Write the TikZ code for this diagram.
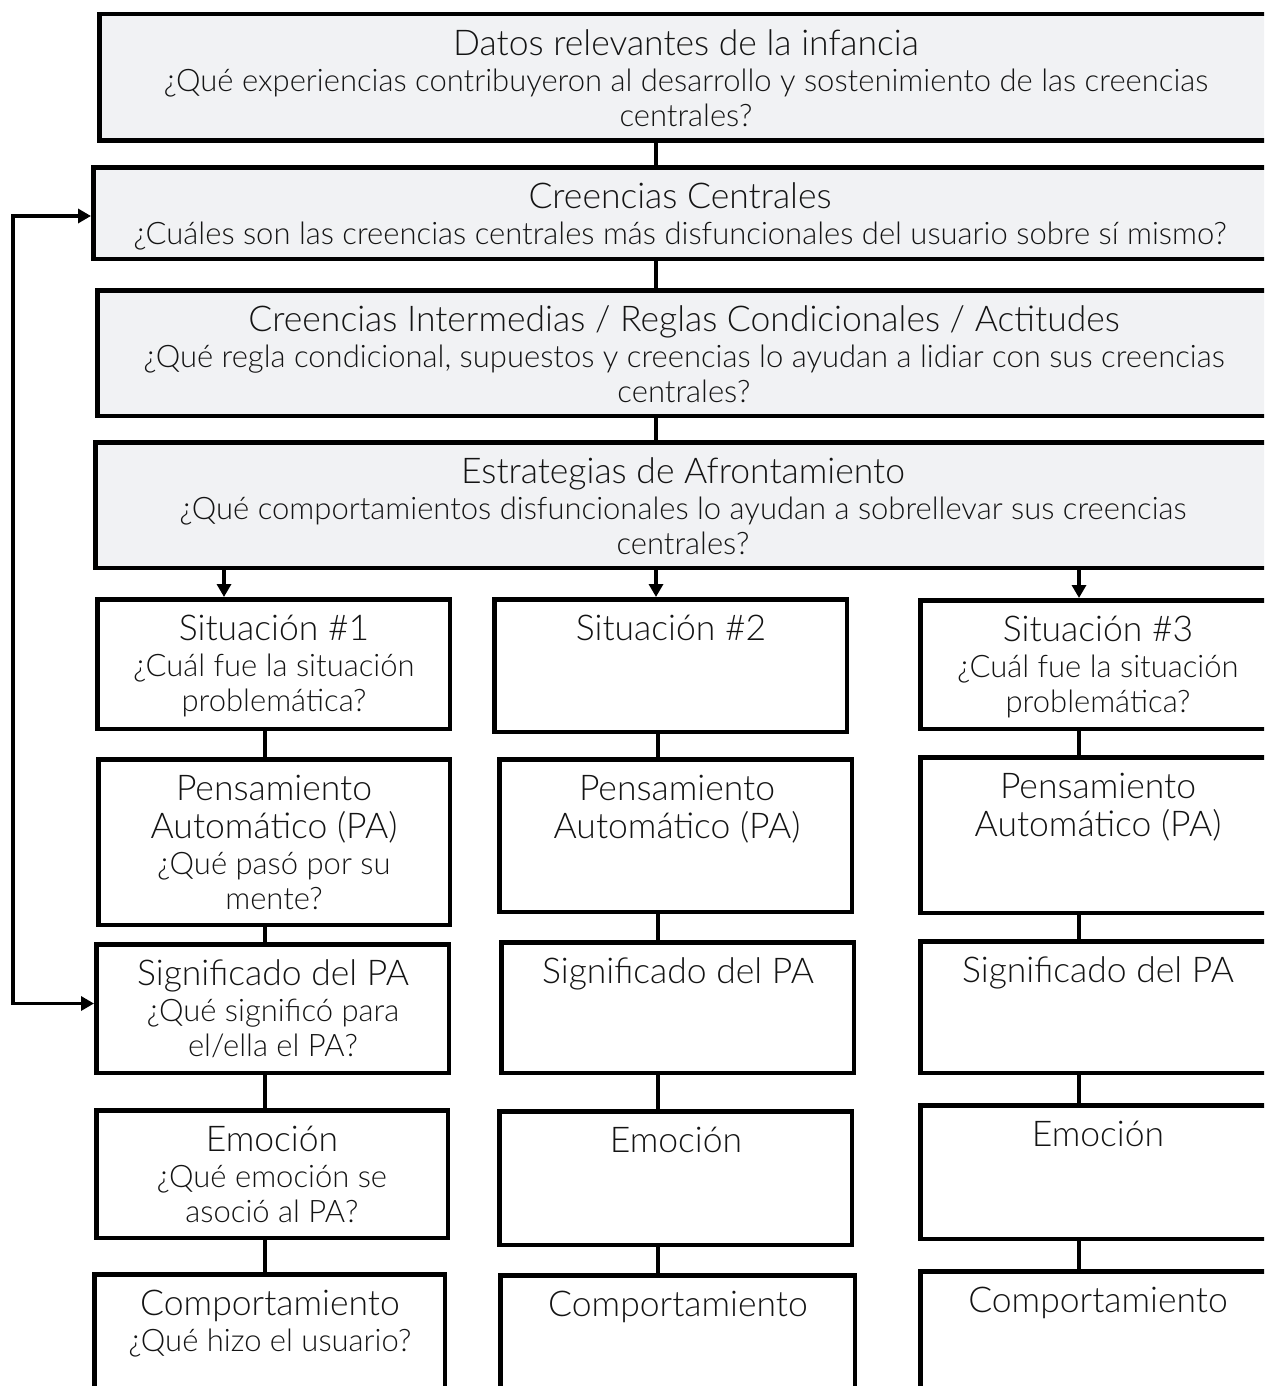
\documentclass[tikz,border=0pt]{standalone}
\usepackage{fontspec}
\setmainfont{Lato Light}
\usetikzlibrary{arrows.meta,calc}
\definecolor{boxgray}{RGB}{241,242,244}
\definecolor{txtcol}{RGB}{20,20,20}
\newcommand{\tfnt}{\fontsize{35.5}{37}\selectfont}
\newcommand{\qfnt}{\fontsize{31}{35}\selectfont\lineskiplimit=-100pt\relax}
\newcommand{\ttl}[1]{{\tfnt\rule{0pt}{26pt}#1}}
% name, style, left, top, right, bottom (outer edges, in px)
\newcommand{\mkbox}[6]{\node[#2, minimum width={#5-#3-4.5}, minimum height={#6-#4-4.5}] (#1) at ({(#3+#5)/2},{-(#4+#6)/2}) {};}
% name, x centre, box top, text
\newcommand{\mktxt}[4]{\node[txt] (#1) at (#2,{-(#3+17)}) {#4};}
\begin{document}
\begin{tikzpicture}[x=1pt,y=1pt,
  gbox/.style={draw=black, line width=4.5pt, fill=boxgray, inner sep=0pt},
  wbox/.style={draw=black, line width=4.5pt, fill=white, inner sep=0pt},
  txt/.style={anchor=north, align=center, inner sep=0pt, text=txtcol, font=\qfnt},
  conn/.style={draw=black, line width=3.5pt},
  arr/.style={draw=black, line width=3.5pt, -{Triangle[length=13pt,width=14pt]}},
  darr/.style={draw=black, line width=3.5pt, {Triangle[length=13pt,width=14pt]}-{Triangle[length=13pt,width=14pt]}}]
\useasboundingbox (0,0) rectangle (1264,-1386);
\clip (0,0) rectangle (1264,-1386);
\fill[white] (0,0) rectangle (1264,-1386);

% connector x positions
\coordinate (xm) at (656,0);
\coordinate (xa) at (224,0);
\coordinate (xc) at (1079,0);
\coordinate (x1) at (265,0);
\coordinate (x2) at (658,0);
\coordinate (x3) at (1079,0);
\coordinate (xf) at (13,0);

% top boxes
\mkbox{b1}{gbox}{97}{12}{1290}{143}
\mkbox{b2}{gbox}{91}{165}{1290}{261}
\mkbox{b3}{gbox}{95}{288}{1290}{418}
\mkbox{b4}{gbox}{93}{440}{1290}{570}

% column 1
\mkbox{s1}{wbox}{95}{597}{452}{731}
\mkbox{p1}{wbox}{96}{757}{452}{927}
\mkbox{g1}{wbox}{94}{942}{451}{1075}
\mkbox{e1}{wbox}{94}{1108}{450}{1240}
\mkbox{c1}{wbox}{92}{1272}{447}{1420}
% column 2
\mkbox{s2}{wbox}{492}{597}{849}{734}
\mkbox{p2}{wbox}{497}{757}{854}{914}
\mkbox{g2}{wbox}{499}{940}{856}{1075}
\mkbox{e2}{wbox}{497}{1109}{854}{1247}
\mkbox{c2}{wbox}{498}{1273}{857}{1420}
% column 3
\mkbox{s3}{wbox}{918}{598}{1280}{731}
\mkbox{p3}{wbox}{918}{755}{1280}{915}
\mkbox{g3}{wbox}{918}{939}{1280}{1075}
\mkbox{e3}{wbox}{918}{1103}{1280}{1241}
\mkbox{c3}{wbox}{918}{1269}{1280}{1420}

% texts
\mktxt{b1t}{686}{12}{\ttl{Datos relevantes de la infancia}\\[1pt]¿Qué experiencias contribuyeron al desarrollo y sostenimiento de las creencias\\centrales?}
\mktxt{b2t}{680}{165}{\ttl{Creencias Centrales}\\[1pt]¿Cuáles son las creencias centrales más disfuncionales del usuario sobre sí mismo?}
\mktxt{b3t}{684}{288}{\ttl{Creencias Intermedias / Reglas Condicionales / Actitudes}\\[1pt]¿Qué regla condicional, supuestos y creencias lo ayudan a lidiar con sus creencias\\centrales?}
\mktxt{b4t}{683}{440}{\ttl{Estrategias de Afrontamiento}\\[1pt]¿Qué comportamientos disfuncionales lo ayudan a sobrellevar sus creencias\\centrales?}

\mktxt{s1t}{274}{597}{\ttl{Situación \#1}\\[1pt]¿Cuál fue la situación\\problemática?}
\mktxt{p1t}{274}{757}{\ttl{Pensamiento}\\[3pt]\ttl{Automático (PA)}\\[1pt]¿Qué pasó por su\\mente?}
\mktxt{g1t}{273}{942}{\ttl{Significado del PA}\\[1pt]¿Qué significó para\\el/ella el PA?}
\mktxt{e1t}{272}{1108}{\ttl{Emoción}\\[1pt]¿Qué emoción se\\asoció al PA?}
\mktxt{c1t}{270}{1272}{\ttl{Comportamiento}\\[1pt]¿Qué hizo el usuario?}

\mktxt{s2t}{671}{597}{\ttl{Situación \#2}}
\mktxt{p2t}{677}{757}{\ttl{Pensamiento}\\[3pt]\ttl{Automático (PA)}}
\mktxt{g2t}{678}{940}{\ttl{Significado del PA}}
\mktxt{e2t}{676}{1109}{\ttl{Emoción}}
\mktxt{c2t}{678}{1273}{\ttl{Comportamiento}}

\mktxt{s3t}{1098}{598}{\ttl{Situación \#3}\\[1pt]¿Cuál fue la situación\\problemática?}
\mktxt{p3t}{1098}{755}{\ttl{Pensamiento}\\[3pt]\ttl{Automático (PA)}}
\mktxt{g3t}{1098}{939}{\ttl{Significado del PA}}
\mktxt{e3t}{1098}{1103}{\ttl{Emoción}}
\mktxt{c3t}{1098}{1269}{\ttl{Comportamiento}}

% connectors between top boxes
\draw[conn] (xm |- b1.south) -- (xm |- b2.north);
\draw[conn] (xm |- b2.south) -- (xm |- b3.north);
\draw[conn] (xm |- b3.south) -- (xm |- b4.north);
% arrows to situations
\draw[arr] (xa |- b4.south) -- (xa |- s1.north);
\draw[arr] (xm |- b4.south) -- (xm |- s2.north);
\draw[arr] (xc |- b4.south) -- (xc |- s3.north);
% column connectors
\draw[conn] (x1 |- s1.south) -- (x1 |- p1.north);
\draw[conn] (x1 |- p1.south) -- (x1 |- g1.north);
\draw[conn] (x1 |- g1.south) -- (x1 |- e1.north);
\draw[conn] (x1 |- e1.south) -- (x1 |- c1.north);
\draw[conn] (x2 |- s2.south) -- (x2 |- p2.north);
\draw[conn] (x2 |- p2.south) -- (x2 |- g2.north);
\draw[conn] (x2 |- g2.south) -- (x2 |- e2.north);
\draw[conn] (x2 |- e2.south) -- (x2 |- c2.north);
\draw[conn] (x3 |- s3.south) -- (x3 |- p3.north);
\draw[conn] (x3 |- p3.south) -- (x3 |- g3.north);
\draw[conn] (x3 |- g3.south) -- (x3 |- e3.north);
\draw[conn] (x3 |- e3.south) -- (x3 |- c3.north);
% feedback arrow
\coordinate (fa) at ([yshift=-3pt]b2.west);
\coordinate (fb) at ([yshift=5pt]g1.west);
\draw[darr] (fa) -- (fa -| xf) -- (fb -| xf) -- (fb);
\end{tikzpicture}
\end{document}
